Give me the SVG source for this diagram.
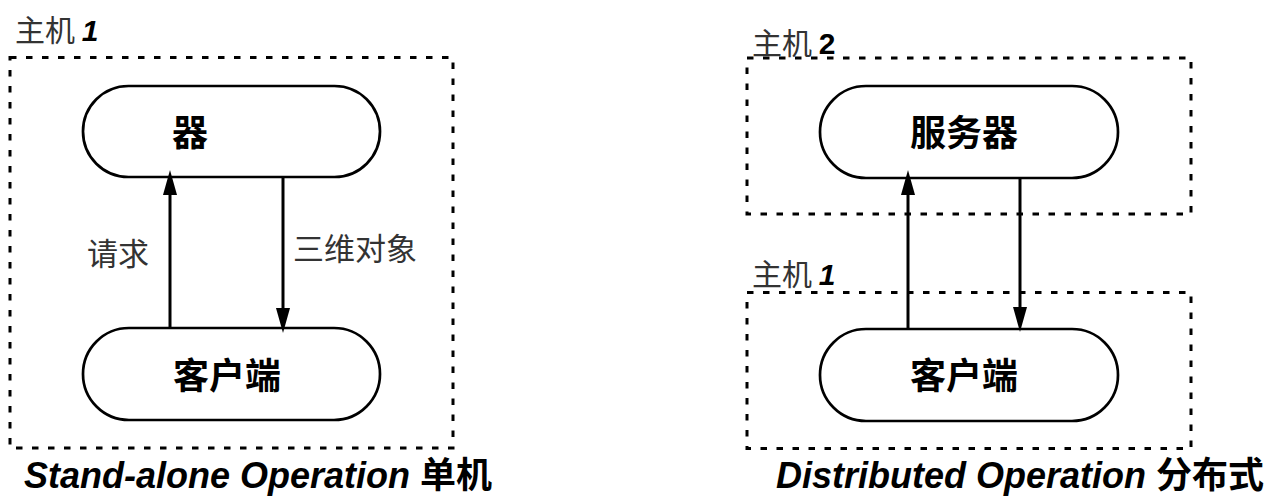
<svg xmlns="http://www.w3.org/2000/svg" width="1279" height="497" viewBox="0 0 1279 497">
<style>
.host{fill:none;stroke:#000;stroke-width:3;stroke-dasharray:6.5 9.5}
.node{fill:#fff;stroke:#000;stroke-width:2.7}
.ntext{font-family:"Noto Sans CJK SC","Liberation Sans",sans-serif;font-weight:bold;font-size:36px;fill:#000;text-anchor:middle}
.lbl{font-family:"Noto Sans CJK SC","Liberation Sans",sans-serif;font-size:30px;fill:#333}
.num{font-family:"Liberation Sans",sans-serif;font-weight:bold;fill:#000}
.elbl{font-family:"Noto Sans CJK SC","Liberation Sans",sans-serif;font-size:31px;fill:#333}
.cap{font-family:"Liberation Sans","Noto Sans CJK SC",sans-serif;font-weight:bold;font-style:italic;font-size:36px;fill:#000}
.cjk{font-family:"Noto Sans CJK SC",sans-serif;font-style:normal}
.edge{fill:none;stroke:#000;stroke-width:3}
</style>
<defs>
<marker id="arr" viewBox="0 0 25 14" refX="15" refY="7" markerWidth="25" markerHeight="14" markerUnits="userSpaceOnUse" orient="auto">
<path d="M0,0 L25,7 L0,14 z" fill="#000"/>
</marker>
</defs>

<g id="host1-left">
<rect class="host" x="10" y="57.5" width="443" height="390.5"/>
<text class="lbl" x="15" y="41">主机 <tspan class="num" font-style="italic">1</tspan></text>
</g>

<g id="host2-right">
<rect class="host" x="747" y="58" width="444" height="156"/>
<text class="lbl" x="752" y="54">主机 <tspan class="num">2</tspan></text>
</g>

<g id="host1-right">
<rect class="host" x="747" y="292.5" width="444" height="156"/>
<text class="lbl" x="752" y="285">主机 <tspan class="num" font-style="italic">1</tspan></text>
</g>

<g id="server-left">
<rect class="node" x="83" y="86" width="297" height="91" rx="45.5"/>
<text class="ntext" x="190" y="146">器</text>
</g>

<g id="client-left">
<rect class="node" x="83" y="328" width="297" height="92" rx="46"/>
<text class="ntext" x="227" y="389">客户端</text>
</g>

<g id="server-right">
<rect class="node" x="820" y="86" width="298" height="92" rx="46"/>
<text class="ntext" x="964" y="146">服务器</text>
</g>

<g id="client-right">
<rect class="node" x="820" y="329" width="298" height="92" rx="46"/>
<text class="ntext" x="964" y="389">客户端</text>
</g>

<g id="connectors">
<line class="edge" x1="170" y1="328" x2="170" y2="180" marker-end="url(#arr)"/>
<line class="edge" x1="283" y1="177" x2="283" y2="323" marker-end="url(#arr)"/>
<line class="edge" x1="908" y1="329" x2="908" y2="180" marker-end="url(#arr)"/>
<line class="edge" x1="1020" y1="178" x2="1020" y2="322" marker-end="url(#arr)"/>
<text class="elbl" x="87" y="265">请求</text>
<text class="elbl" x="293" y="260">三维对象</text>
</g>

<g id="captions">
<text class="cap" x="24" y="488">Stand-alone Operation <tspan class="cjk">单机</tspan></text>
<text class="cap" x="776" y="488">Distributed Operation <tspan class="cjk">分布式</tspan></text>
</g>
</svg>
